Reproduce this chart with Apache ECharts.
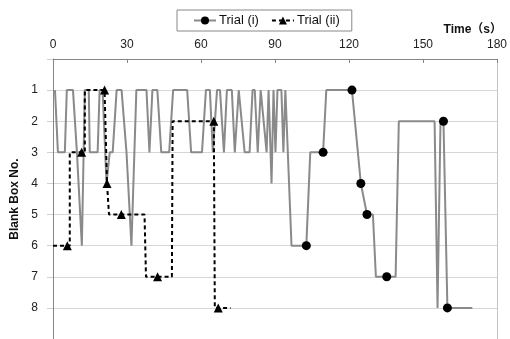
<!DOCTYPE html>
<html>
<head>
<meta charset="utf-8">
<script src="https://cdn.jsdelivr.net/npm/echarts@6/dist/echarts.min.js"></script>
<style>
  html, body { margin: 0; padding: 0; background: #fff; }
  #chart { width: 510px; height: 339px; }
</style>
</head>
<body>
<div id="chart"></div>
<script>
// Trial (i): time (s) and blank box number
const trial1Time = [0.8, 2.0, 4.8, 5.6, 8.1, 9.7, 10.5, 11.7, 12.9, 14.5,
  14.9, 18.1, 18.9, 20.1, 21.7, 23.0, 24.2, 25.8, 27.8, 29.8,
  31.8, 33.0, 33.8, 37.9, 39.1, 40.3, 42.3, 43.9, 47.1, 48.7,
  54.4, 56.0, 60.4, 62.0, 63.6, 64.8, 66.5, 67.7, 69.3, 70.5,
  72.5, 73.7, 75.3, 76.1, 77.7, 79.7, 80.9, 81.8, 83.0, 84.2,
  85.0, 86.6, 87.4, 88.6, 89.4, 90.2, 91.0, 92.6, 93.4, 94.2,
  94.6, 96.7, 102.7, 104.3, 109.5, 110.8, 121.2, 124.8, 127.3, 129.7,
  130.9, 135.3, 138.9, 140.2, 154.7, 155.9, 157.1, 158.3, 159.9, 170]
const trial1Box = [1, 3, 3, 1, 1, 3, 3, 6, 1, 1,
  3, 3, 1, 1, 4, 3, 3, 1, 1, 3,
  6, 3, 1, 1, 3, 1, 1, 3, 3, 1,
  1, 3, 3, 1, 1, 3, 1, 1, 3, 1,
  1, 3, 1, 1, 3, 3, 1, 1, 3, 1,
  1, 3, 1, 4, 1, 3, 1, 1, 3, 1,
  1, 6, 6, 3, 3, 1, 1, 4, 5, 5,
  7, 7, 7, 2, 2, 8, 2, 2, 8, 8]
const trial1Marked = [62, 64, 66, 67, 68, 71, 77, 78]

// Trial (ii)
const trial2Time = [0, 5.8, 6.8, 6.8, 11.6, 12.9, 12.9, 20.9, 21.9, 22.7,
  27.7, 37.1, 37.7, 42.4, 48.2, 48.5, 65.2, 65.6, 67.0, 72.0]
const trial2Box = [6, 6, 6, 3, 3, 3, 1, 1, 4, 5,
  5, 5, 7, 7, 7, 2, 2, 8, 8, 8]
const trial2Marked = [1, 4, 7, 8, 10, 13, 16, 18]

const timeTicks = [0, 30, 60, 90, 120, 150, 180]
const boxTicks = [1, 2, 3, 4, 5, 6, 7, 8]

const fontFamily = "'Liberation Sans', 'Noto Sans CJK JP', sans-serif"

function buildData(times, boxes, marked) {
  return times.map((t, i) => {
    const item = { value: [t, boxes[i]] }
    if (marked.indexOf(i) < 0) {
      item.symbol = 'none'
    }
    return item
  })
}

const chart = echarts.init(document.getElementById('chart'))
chart.setOption({
  animation: false,
  textStyle: { fontFamily: fontFamily },
  title: {
    text: 'Time（s）',
    right: 3,
    top: 19,
    textStyle: { fontSize: 12, fontWeight: 'bold', color: '#111', fontFamily: fontFamily }
  },
  legend: {
    left: 177,
    top: 10,
    padding: [4, 12, 4, 16],
    borderColor: '#888',
    borderWidth: 1,
    itemGap: 12,
    itemWidth: 22,
    itemHeight: 10,
    textStyle: { fontSize: 13, color: '#111', padding: [0, 0, 0, -2] },
    data: ['Trial (i)', 'Trial (ii)']
  },
  grid: {
    left: 53,
    right: 10,
    top: 59,
    bottom: 0
  },
  xAxis: {
    type: 'value',
    position: 'top',
    min: timeTicks[0],
    max: timeTicks[timeTicks.length - 1],
    interval: 30,
    axisLine: { lineStyle: { color: '#868686', width: 1 } },
    axisTick: { inside: true, length: 4, lineStyle: { color: '#868686' } },
    axisLabel: { margin: 8, fontSize: 12, color: '#222' },
    splitLine: { show: false }
  },
  yAxis: [{
    type: 'value',
    inverse: true,
    min: 0,
    max: 9,
    interval: 1,
    name: 'Blank Box No.',
    nameLocation: 'middle',
    nameRotate: 90,
    nameGap: 27,
    nameTextStyle: { fontSize: 12, fontWeight: 'bold', color: '#111' },
    axisLine: { show: true, lineStyle: { color: '#868686' } },
    axisTick: { show: true, length: 6, lineStyle: { color: '#d0d0d0' } },
    axisLabel: {
      margin: 15,
      fontSize: 12,
      color: '#222',
      formatter: v => (boxTicks.indexOf(v) >= 0 ? String(v) : '')
    },
    splitLine: { lineStyle: { color: '#d6d6d6', width: 1 } }
  }, {
    type: 'value',
    inverse: true,
    position: 'right',
    min: 0,
    max: 9,
    interval: 1,
    axisLine: { show: true, lineStyle: { color: '#c4c4c4' } },
    axisTick: { show: false },
    axisLabel: { show: false },
    splitLine: { show: false }
  }],
  series: [{
    name: 'Trial (i)',
    type: 'line',
    symbol: 'circle',
    symbolSize: 9,
    itemStyle: { color: '#000' },
    lineStyle: { color: '#8a8a8a', width: 2 },
    data: buildData(trial1Time, trial1Box, trial1Marked)
  }, {
    name: 'Trial (ii)',
    type: 'line',
    symbol: 'triangle',
    symbolSize: 9,
    itemStyle: { color: '#000' },
    lineStyle: { color: '#000', width: 2, type: [4, 3] },
    data: buildData(trial2Time, trial2Box, trial2Marked)
  }]
})
</script>
</body>
</html>
